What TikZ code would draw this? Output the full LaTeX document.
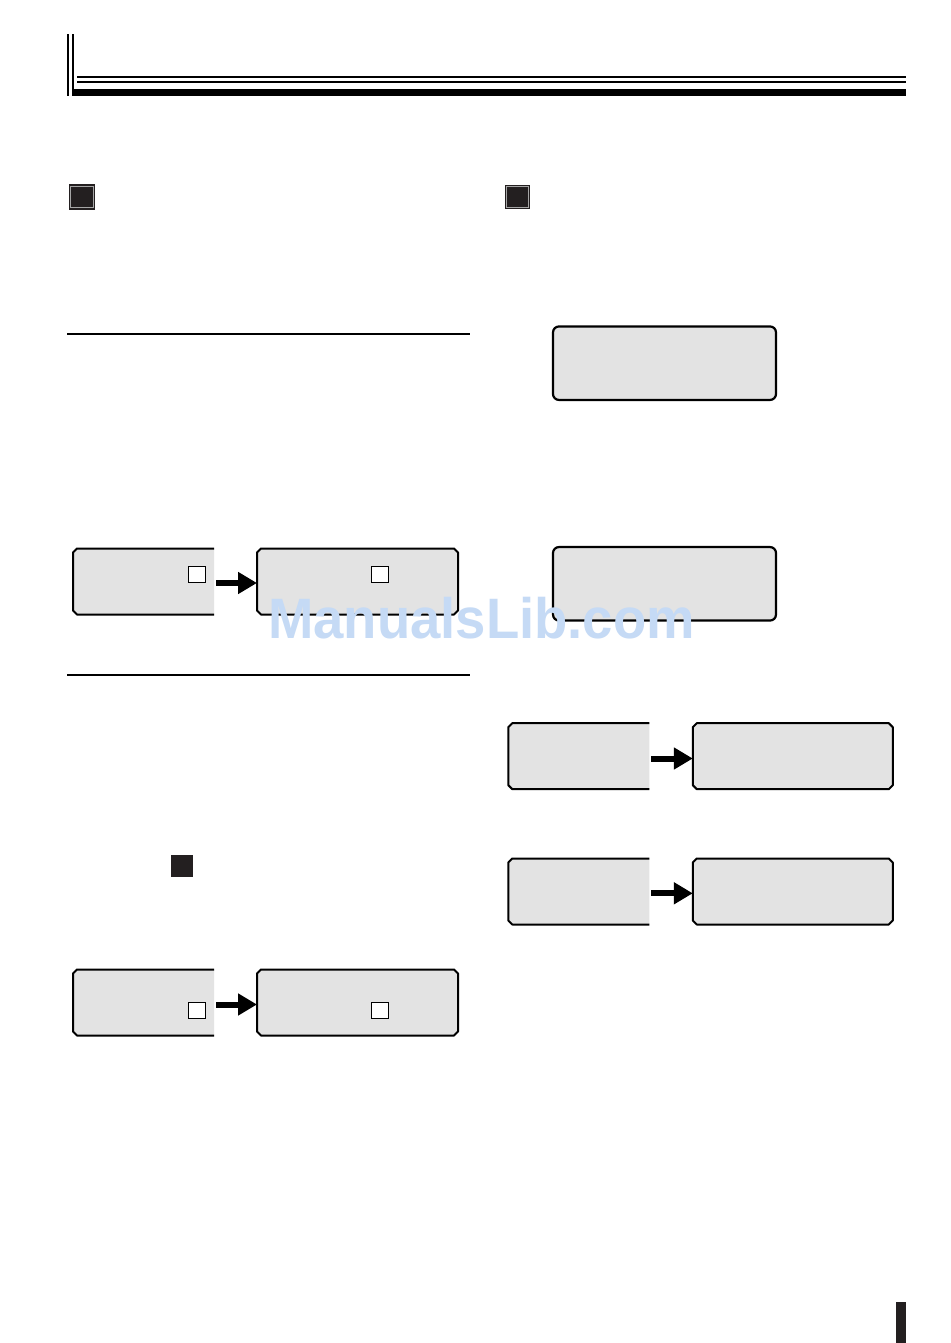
\documentclass[tikz,border=0pt]{standalone}
\usepackage{fontspec}
\usetikzlibrary{arrows.meta}
\newfontfamily\wmfont{Liberation Sans}
\definecolor{boxgray}{RGB}{227,227,227}
\definecolor{darksq}{RGB}{35,31,32}
\definecolor{wmblue}{RGB}{197,218,245}
\newcommand\ChamBox[1]{%
  \draw[boxline] ([xshift=4pt]#1.north west) -- ([xshift=-4pt]#1.north east) -- ([yshift=-4pt]#1.north east)
    -- ([yshift=4pt]#1.south east) -- ([xshift=-4pt]#1.south east) -- ([xshift=4pt]#1.south west)
    -- ([yshift=4pt]#1.south west) -- ([yshift=-4pt]#1.north west) -- cycle;}
\newcommand\OpenBox[1]{%
  \fill[boxgray] (#1.north east) -- ([xshift=4pt]#1.north west) -- ([yshift=-4pt]#1.north west)
    -- ([yshift=4pt]#1.south west) -- ([xshift=4pt]#1.south west) -- (#1.south east) -- cycle;
  \draw[line width=2pt, line join=round] (#1.north east) -- ([xshift=4pt]#1.north west) -- ([yshift=-4pt]#1.north west)
    -- ([yshift=4pt]#1.south west) -- ([xshift=4pt]#1.south west) -- (#1.south east);}
\begin{document}
\begin{tikzpicture}[x=1pt,y=-1pt,
  boxline/.style={draw=black, fill=boxgray, line width=2pt, line join=round},
  area/.style={draw=none, inner sep=0pt, outer sep=0pt, minimum width=#1},
  roundbox/.style={draw=black, fill=boxgray, line width=2.2pt, rounded corners=6pt, inner sep=0pt, minimum width=223pt, minimum height=73.5pt},
  whitesq/.style={draw=black, fill=white, line width=1pt, inner sep=0pt, minimum size=16.5pt},
  darkbox/.style={fill=darksq, inner sep=0pt},
  arr/.style={line width=6pt, -{Triangle[length=19pt,width=21pt]}},
  rule/.style={line width=1.6pt}]
\useasboundingbox (0,0) rectangle (950,1343);
\fill[white] (0,0) rectangle (950,1343);

% header
\fill (66.7,34) rectangle (68.7,95.7);
\fill (72,34) rectangle (73.8,95.7);
\fill (76.7,75.7) rectangle (906,77.7);
\fill (76.7,80.7) rectangle (906,82.7);
\fill (73,89.3) rectangle (906,95.7);

% dark squares
\node[darkbox, minimum width=26pt, minimum height=25pt] (sq1) at (82,197) {};
\draw[gray!70, line width=0.9pt] (70.8,186.3) rectangle (93.2,207.7);
\node[darkbox, minimum width=25pt, minimum height=24pt] (sq2) at (517.5,197) {};
\draw[gray!70, line width=0.9pt] (506.8,186.8) rectangle (528.2,207.2);
\node[darkbox, minimum width=22pt, minimum height=22pt] (sq3) at (182,866) {};

% section rules
\draw[rule] (67,334) -- (470,334);
\draw[rule] (67,675) -- (470,675);

% single rounded boxes
\node[roundbox] (S1) at (664.5,363.2) {};
\node[roundbox] (S2) at (664.5,583.8) {};

% pair A
\node[area=141pt, minimum height=66pt] (LA) at (143.5,581.5) {};
\OpenBox{LA}
\node[area=201pt, minimum height=66pt] (RA) at (357.5,581.5) {};
\ChamBox{RA}
\node[whitesq] (qa1) at (197,574.3) {};
\node[whitesq] (qa2) at (380,574.3) {};
\draw[arr] ([xshift=2pt,yshift=-1.5pt]LA.east) -- ([yshift=-1.5pt]RA.west);

% pair B
\node[area=141pt, minimum height=66pt] (LB) at (143.5,1002.5) {};
\OpenBox{LB}
\node[area=201pt, minimum height=66pt] (RB) at (357.5,1002.5) {};
\ChamBox{RB}
\node[whitesq] (qb1) at (197,1010.3) {};
\node[whitesq] (qb2) at (380,1010.3) {};
\draw[arr] ([xshift=2pt,yshift=-2pt]LB.east) -- ([yshift=-2pt]RB.west);

% pair C
\node[area=141pt, minimum height=66pt] (LC) at (578.8,756.2) {};
\OpenBox{LC}
\node[area=200pt, minimum height=66pt] (RC) at (792.8,756.2) {};
\ChamBox{RC}
\draw[arr] ([xshift=2pt,yshift=-2.3pt]LC.east) -- ([yshift=-2.3pt]RC.west);

% pair D
\node[area=141pt, minimum height=66pt] (LD) at (578.8,891.5) {};
\OpenBox{LD}
\node[area=200pt, minimum height=66pt] (RD) at (792.8,891.5) {};
\ChamBox{RD}
\draw[arr] ([xshift=2pt,yshift=-1.8pt]LD.east) -- ([yshift=-1.8pt]RD.west);

% page tab
\fill[darksq] (896,1302.3) rectangle (906,1343);

% watermark
\node[inner sep=0pt, anchor=base, text=wmblue, font=\wmfont\bfseries\fontsize{57}{57}\selectfont] (wm) at (481.5,638) {\scalebox{0.956}[1]{ManualsLib.com}};
\end{tikzpicture}
\end{document}
